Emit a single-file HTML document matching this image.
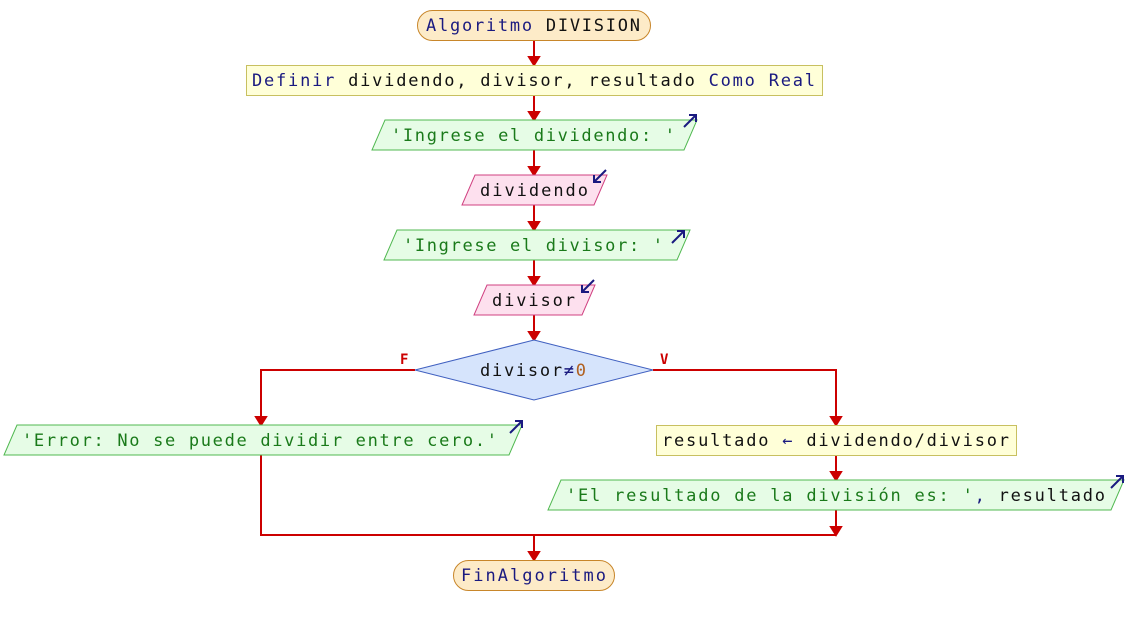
<!DOCTYPE html>
<html><head><meta charset="utf-8"><style>
html,body{margin:0;padding:0;background:#fff;width:1128px;height:625px;overflow:hidden}
text{font-family:"DejaVu Sans Mono","Liberation Mono",monospace;font-size:17px}
.k{fill:#1a1a80}.s{fill:#1a7a1a}.v{fill:#111}.n{fill:#b06020}
</style></head><body>
<svg width="1128" height="625" xmlns="http://www.w3.org/2000/svg">
<g stroke="#cc0000" stroke-width="2" fill="none">
<line x1="534" y1="40" x2="534" y2="63"/><path d="M529,57 L539,57 L534,65Z" fill="#cc0000"/>
<line x1="534" y1="95" x2="534" y2="118"/><path d="M529,112 L539,112 L534,120Z" fill="#cc0000"/>
<line x1="534" y1="150" x2="534" y2="173"/><path d="M529,167 L539,167 L534,175Z" fill="#cc0000"/>
<line x1="534" y1="205" x2="534" y2="228"/><path d="M529,222 L539,222 L534,230Z" fill="#cc0000"/>
<line x1="534" y1="260" x2="534" y2="283"/><path d="M529,277 L539,277 L534,285Z" fill="#cc0000"/>
<line x1="534" y1="315" x2="534" y2="338"/><path d="M529,332 L539,332 L534,340Z" fill="#cc0000"/>
<polyline points="415,370 261,370 261,423"/><path d="M256,417 L266,417 L261,425Z" fill="#cc0000"/>
<polyline points="653,370 836,370 836,423"/><path d="M831,417 L841,417 L836,425Z" fill="#cc0000"/>
<line x1="836" y1="455" x2="836" y2="478"/><path d="M831,472 L841,472 L836,480Z" fill="#cc0000"/>
<line x1="836" y1="510" x2="836" y2="535"/><path d="M831,527 L841,527 L836,535Z" fill="#cc0000"/>
<polyline points="261,455 261,535 836,535"/>
<line x1="534" y1="535" x2="534" y2="558"/><path d="M529,552 L539,552 L534,560Z" fill="#cc0000"/>
</g>
<g stroke-width="1">
<rect x="417.5" y="10.5" width="233" height="30" rx="15" fill="#fdebc8" stroke="#c8862a"/>
<rect x="246.5" y="65.5" width="576" height="30" fill="#ffffd8" stroke="#c8c060"/>
<polygon points="385,120 697,120 684,150 372,150" fill="#e6fce6" stroke="#50b850"/>
<polygon points="475,175 607,175 594,205 462,205" fill="#fde0ee" stroke="#d04080"/>
<polygon points="397,230 690,230 677,260 384,260" fill="#e6fce6" stroke="#50b850"/>
<polygon points="487,285 595,285 582,315 474,315" fill="#fde0ee" stroke="#d04080"/>
<polygon points="534,340 653,370 534,400 415,370" fill="#d6e4fc" stroke="#4060c0"/>
<polygon points="17,425 522,425 509,455 4,455" fill="#e6fce6" stroke="#50b850"/>
<rect x="656.5" y="425.5" width="360" height="30" fill="#ffffd8" stroke="#c8c060"/>
<polygon points="561,480 1124,480 1111,510 548,510" fill="#e6fce6" stroke="#50b850"/>
<rect x="453.5" y="560.5" width="161" height="30" rx="15" fill="#fdebc8" stroke="#c8862a"/>
</g>
<g stroke="#1a1a80" stroke-width="2" fill="none">
<path d="M684,127 L696,115 M689,115 L696,115 L696,122"/>
<path d="M672,243 L684,231 M677,231 L684,231 L684,238"/>
<path d="M510,433 L522,421 M515,421 L522,421 L522,428"/>
<path d="M1111,488 L1123,476 M1116,476 L1123,476 L1123,483"/>
<path d="M606,170 L594,182 M594,175 L594,182 L601,182"/>
<path d="M594,280 L582,292 M582,285 L582,292 L589,292"/>
</g>
<text x="400" y="364" style="font-size:14px;font-weight:bold" fill="#cc0000">F</text>
<text x="660" y="364" style="font-size:14px;font-weight:bold" fill="#cc0000">V</text>
<text x="426" y="31" textLength="214" lengthAdjust="spacing"><tspan class="k">Algoritmo</tspan><tspan class="v"> DIVISION</tspan></text>
<text x="252" y="86" textLength="563" lengthAdjust="spacing"><tspan class="k">Definir</tspan><tspan class="v"> dividendo, divisor, resultado </tspan><tspan class="k">Como Real</tspan></text>
<text x="391" y="141" textLength="284" lengthAdjust="spacing" class="s">'Ingrese el dividendo: '</text>
<text x="480" y="196" textLength="108" lengthAdjust="spacing" class="v">dividendo</text>
<text x="403" y="251" textLength="260" lengthAdjust="spacing" class="s">'Ingrese el divisor: '</text>
<text x="492" y="306" textLength="83" lengthAdjust="spacing" class="v">divisor</text>
<text x="480" y="376" textLength="106" lengthAdjust="spacing"><tspan class="v">divisor</tspan><tspan class="k">≠</tspan><tspan class="n">0</tspan></text>
<text x="22" y="446" textLength="475" lengthAdjust="spacing" class="s">'Error: No se puede dividir entre cero.'</text>
<text x="662" y="446" textLength="347" lengthAdjust="spacing"><tspan class="v">resultado </tspan><tspan class="k">←</tspan><tspan class="v"> dividendo/divisor</tspan></text>
<text x="566" y="501" textLength="539" lengthAdjust="spacing"><tspan class="s">'El resultado de la división es: '</tspan><tspan class="k">,</tspan><tspan class="v"> resultado</tspan></text>
<text x="461" y="581" textLength="145" lengthAdjust="spacing" class="k">FinAlgoritmo</text>
</svg>
</body></html>
